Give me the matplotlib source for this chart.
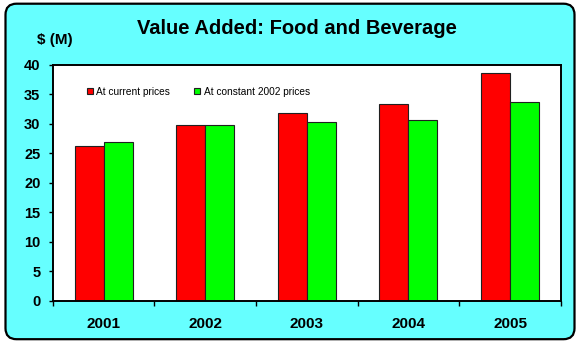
import matplotlib
matplotlib.use("Agg")
import matplotlib.pyplot as plt
import numpy as np
from matplotlib.patches import FancyBboxPatch

plt.rcParams['font.family'] = ['Liberation Sans', 'DejaVu Sans']

years = ["2001", "2002", "2003", "2004", "2005"]
current_prices = [26.2, 29.7, 31.8, 33.3, 38.6]
constant_2002_prices = [26.9, 29.7, 30.3, 30.6, 33.7]
series_labels = ["At current prices", "At constant 2002 prices"]

W, H = 576, 341
fig = plt.figure(figsize=(W / 100, H / 100), dpi=100)
fig.patch.set_facecolor("white")

# rounded cyan panel behind the chart
panel = FancyBboxPatch((5.5 / W, 1.8 / H), 569 / W, 335.5 / H,
                       boxstyle="round,pad=0,rounding_size=%f" % (11 / W),
                       transform=fig.transFigure, facecolor="#66FFFF",
                       edgecolor="black", linewidth=1.6, zorder=-10,
                       mutation_aspect=W / H)
fig.patches.append(panel)

left, right, top, bottom = 52.9, 560.8, 64.7, 300.7
ax = fig.add_axes([left / W, 1 - bottom / H, (right - left) / W, (bottom - top) / H])
ax.set_zorder(1)
ax.set_facecolor("white")

x = np.arange(len(years))
w = 0.285
ax.bar(x - w / 2, current_prices, w, color="#FF0000", edgecolor="#202020",
       linewidth=0.8, label=series_labels[0], zorder=2)
ax.bar(x + w / 2, constant_2002_prices, w, color="#00FF00", edgecolor="#202020",
       linewidth=0.8, label=series_labels[1], zorder=2)

ax.set_xlim(-0.5, len(years) - 0.5)
ax.set_ylim(0, 40)
ax.set_yticks(np.arange(0, 41, 5))
ax.set_yticklabels([str(v) for v in range(0, 41, 5)], fontsize=10.5, fontweight="bold")
ax.set_xticks(x)
ax.set_xticklabels(years, fontsize=11, fontweight="bold")
ax.tick_params(axis="x", length=0, pad=12)
ax.tick_params(axis="y", length=3, width=1, pad=6)
ax.set_xticks(np.arange(-0.5, len(years), 1), minor=True)
ax.tick_params(axis="x", which="minor", length=3.5, width=1)

for s in ax.spines.values():
    s.set_linewidth(1.4)
    s.set_color("black")

leg = ax.legend(loc="center left", bbox_to_anchor=(0.0665, 0.886), ncol=2,
                frameon=False, fontsize=7.3, handlelength=0.6, handleheight=0.6,
                handletextpad=0.33, columnspacing=2.4, borderaxespad=0,
                borderpad=0)

fig.text(297 / W, 1 - 28 / H, "Value Added: Food and Beverage",
         ha="center", va="center", fontsize=14.5, fontweight="bold")
fig.text(54.5 / W, 1 - 40 / H, "$ (M)", ha="center", va="center",
         fontsize=11, fontweight="bold")

fig.savefig("out.png", dpi=100)
